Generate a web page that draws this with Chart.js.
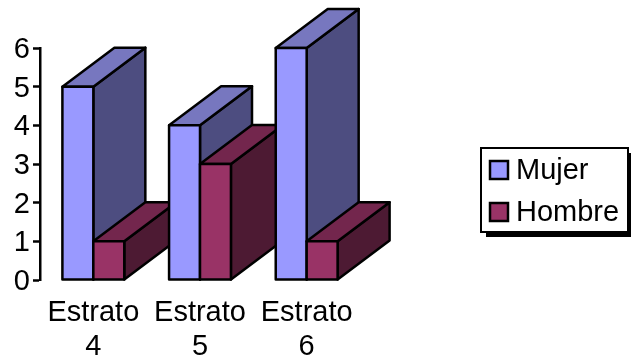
<!DOCTYPE html>
<html>
<head>
<meta charset="utf-8">
<style>html,body{margin:0;padding:0;background:#fff}canvas{display:block}</style>
<script src="https://cdn.jsdelivr.net/npm/chart.js@4/dist/chart.umd.min.js"></script>
</head>
<body>
<canvas id="c" width="631" height="362"></canvas>
<script>
const categories = [["Estrato", "4"], ["Estrato", "5"], ["Estrato", "6"]];
const mujer = [5, 4, 6];
const hombre = [1, 3, 1];
const yTicks = [0, 1, 2, 3, 4, 5, 6];

const FONT = '"Liberation Sans", Arial, sans-serif';
const FONT_SIZE = 29;
const LINE = 2.5;
const shades = {
  Mujer:  { front: "#9999FF", top: "#7777BF", side: "#4D4D80" },
  Hombre: { front: "#993366", top: "#73264D", side: "#4D1A33" }
};

// Extrudes every bar back and to the right, painting front to back per category.
const extrudedBars = {
  id: "extrudedBars",
  beforeDatasetsDraw(chart, args, opts) {
    const ctx = chart.ctx;
    const poly = (pts, fill) => {
      ctx.beginPath();
      pts.forEach((p, i) => i ? ctx.lineTo(p[0], p[1]) : ctx.moveTo(p[0], p[1]));
      ctx.closePath();
      ctx.fillStyle = fill;
      ctx.fill();
      ctx.stroke();
    };
    ctx.save();
    ctx.strokeStyle = "#000";
    ctx.lineWidth = LINE;
    ctx.lineJoin = "round";
    chart.data.labels.forEach((_, i) => {
      chart.data.datasets.forEach((ds, d) => {
        const el = chart.getDatasetMeta(d).data[i];
        const l = el.x - el.width / 2, r = el.x + el.width / 2;
        const t = el.y, b = el.base;
        const c = shades[ds.label];
        const dx = opts.depthX, dy = opts.depthY;
        poly([[r, t], [r + dx, t - dy], [r + dx, b - dy], [r, b]], c.side);
        poly([[l, t], [l + dx, t - dy], [r + dx, t - dy], [r, t]], c.top);
        poly([[l, t], [r, t], [r, b], [l, b]], c.front);
      });
    });
    ctx.restore();
    return false;
  }
};

// Framed key with a hard drop shadow, to the right of the plot.
const framedKey = {
  id: "framedKey",
  afterDraw(chart, args, opts) {
    const ctx = chart.ctx;
    const { x, y, w, h, shadow, swatchX, swatch, textX, rows } = opts;
    ctx.save();
    ctx.fillStyle = "#000";
    ctx.fillRect(x + shadow, y + shadow, w, h);
    ctx.fillStyle = "#fff";
    ctx.strokeStyle = "#000";
    ctx.lineWidth = 2;
    ctx.fillRect(x, y, w, h);
    ctx.strokeRect(x, y, w, h);
    ctx.lineWidth = LINE;
    chart.data.datasets.forEach((ds, i) => {
      ctx.fillStyle = ds.backgroundColor;
      ctx.fillRect(swatchX, rows[i] - swatch / 2, swatch, swatch);
      ctx.strokeRect(swatchX, rows[i] - swatch / 2, swatch, swatch);
      ctx.fillStyle = "#000";
      ctx.font = FONT_SIZE + "px " + FONT;
      ctx.textAlign = "left";
      ctx.textBaseline = "middle";
      ctx.fillText(ds.label, textX, rows[i] + 1);
    });
    ctx.restore();
  }
};

new Chart(document.getElementById("c"), {
  type: "bar",
  data: {
    labels: categories,
    datasets: [
      { label: "Mujer", data: mujer, backgroundColor: shades.Mujer.front },
      { label: "Hombre", data: hombre, backgroundColor: shades.Hombre.front }
    ]
  },
  plugins: [
    { id: "pageBackground", beforeDraw(chart) {
        chart.ctx.fillStyle = "#fff";
        chart.ctx.fillRect(0, 0, chart.width, chart.height);
    } },
    extrudedBars, framedKey
  ],
  options: {
    responsive: false,
    animation: false,
    events: [],
    layout: { padding: { top: 48, right: 271, left: 0, bottom: 0 } },
    datasets: { bar: { categoryPercentage: 0.58, barPercentage: 1 } },
    plugins: {
      legend: { display: false },
      tooltip: { enabled: false },
      title: { display: false },
      extrudedBars: { depthX: 52, depthY: 39 },
      framedKey: { x: 481, y: 148, w: 147, h: 84, shadow: 5, swatchX: 490, swatch: 18, textX: 516, rows: [170, 212] }
    },
    scales: {
      x: {
        grid: { display: false },
        border: { display: false },
        afterFit(scale) { scale.height = 82; },
        ticks: {
          color: "#000",
          padding: 8,
          maxRotation: 0,
          autoSkip: false,
          font: { family: FONT, size: FONT_SIZE, lineHeight: 1.17 }
        }
      },
      y: {
        min: 0,
        max: 6,
        afterFit(scale) { scale.width = 40; },
        afterBuildTicks(scale) { scale.ticks = yTicks.map(v => ({ value: v })); },
        border: { display: true, color: "#000", width: LINE },
        grid: { drawOnChartArea: false, drawTicks: true, tickLength: 7, tickColor: "#000", tickWidth: LINE },
        ticks: {
          color: "#000",
          padding: 3,
          labelOffset: 2,
          font: { family: FONT, size: FONT_SIZE }
        }
      }
    }
  }
});
</script>
</body>
</html>
